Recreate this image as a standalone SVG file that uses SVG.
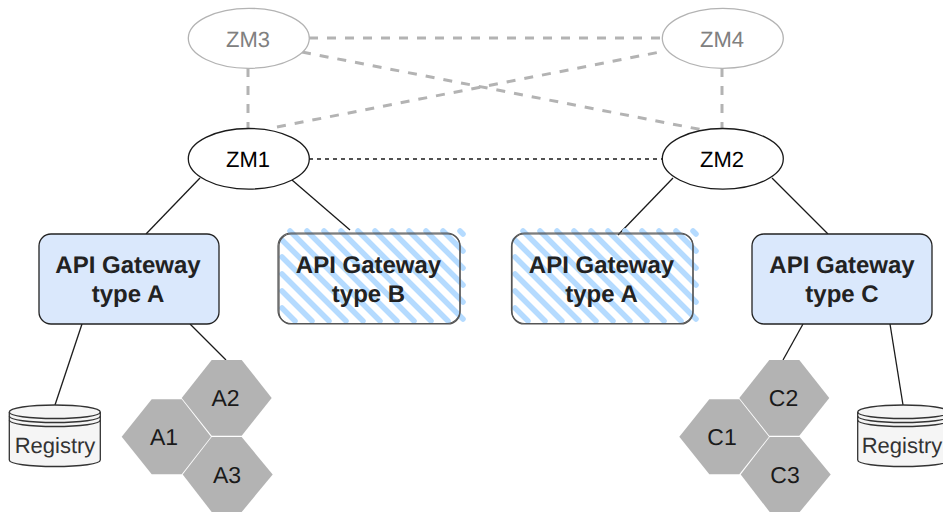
<svg xmlns="http://www.w3.org/2000/svg" width="943" height="512" viewBox="0 0 943 512">
  <style>
    text { font-family: "Liberation Sans", Arial, sans-serif; text-anchor: middle; text-rendering: geometricPrecision; }
    .zm { font-size: 22px; fill: #000; }
    .zmg { font-size: 22px; fill: #808080; }
    .el { fill: #fff; stroke: #1a1a1a; stroke-width: 1.3; }
    .elg { fill: #fff; stroke: #b3b3b3; stroke-width: 1.3; }
    .gw { font-size: 24px; font-weight: bold; fill: #222; }
    .box { fill: #dae8fc; stroke: #222; stroke-width: 1.3; }
    .sk { fill: none; stroke: #555; stroke-width: 1.2; }
    .hatch { fill: none; stroke: #b5dbff; stroke-width: 5.500; stroke-linecap: round; }
    .hex { fill: #b3b3b3; }
    .hext { font-size: 23px; fill: #1a1a1a; }
    .db { fill: #f5f5f5; stroke: #333; stroke-width: 1.3; }
    .dbl { fill: none; stroke: #333; stroke-width: 1.3; }
    .dbt { font-size: 22px; fill: #333; }
    .line { fill: none; stroke: #1a1a1a; stroke-width: 1.3; }
    .dash { fill: none; stroke: #1a1a1a; stroke-width: 1.3; stroke-dasharray: 4 4; }
    .gdash { fill: none; stroke: #b3b3b3; stroke-width: 3; stroke-dasharray: 9 9; }
  </style>
  <defs>
    <path id="hatchLines" class="hatch" d="M0 77L13 90M0 60L30 90M0 43L47 90M0 26L64 90M0 9L81 90M8 0L98 90M25 0L115 90M42 0L132 90M59 0L149 90M76 0L166 90M93 0L181 88M110 0L181 71M127 0L181 54M144 0L181 37M161 0L181 20M178 0L181 3"/>
    <g id="cyl">
      <path class="db" d="M0 7V55C0 59 20 61.500 45.500 61.500S91 59 91 55V7C91 3 71 0 45.500 0S0 3 0 7Z"/>
      <path class="dbl" d="M0 7C0 11 20 13.500 45.500 13.500S91 11 91 7M0 11C0 15 20 17.500 45.500 17.500S91 15 91 11M0 15C0 19 20 21.500 45.500 21.500S91 19 91 15"/>
    </g>
  </defs>

  <g id="connectors">
    <path class="gdash" d="M248 68V128"/>
    <path class="gdash" d="M722 68V128"/>
    <path class="gdash" d="M309 38H662"/>
    <path class="gdash" d="M302 52L703 130"/>
    <path class="gdash" d="M277 127L660 52"/>
    <path class="dash" d="M309 159H662"/>
    <path class="line" d="M200 178L146 234"/>
    <path class="line" d="M292 180L350 230"/>
    <path class="line" d="M673 178L618 235"/>
    <path class="line" d="M772 178L828 234"/>
    <path class="line" d="M82 324L55 405"/>
    <path class="line" d="M190 324L226 360"/>
    <path class="line" d="M803 324L783 360"/>
    <path class="line" d="M890 324L903 405"/>
  </g>

  <g id="zm3"><ellipse class="elg" cx="248.800" cy="38.300" rx="60.500" ry="30"/><text class="zmg" x="248" y="46.500">ZM3</text></g>
  <g id="zm4"><ellipse class="elg" cx="722.800" cy="38.300" rx="60.500" ry="30"/><text class="zmg" x="722" y="46.500">ZM4</text></g>
  <g id="zm1"><ellipse class="el" cx="248.800" cy="158.800" rx="60.500" ry="30.300"/><text class="zm" x="248" y="167">ZM1</text></g>
  <g id="zm2"><ellipse class="el" cx="722.800" cy="158.800" rx="60.500" ry="30.300"/><text class="zm" x="722" y="167">ZM2</text></g>

  <g id="gw-a1">
    <rect class="box" x="39" y="234" width="180" height="90" rx="12"/>
    <text class="gw" x="128" y="273">API Gateway</text>
    <text class="gw" x="128" y="302">type A</text>
  </g>
  <g id="gw-b">
    <use href="#hatchLines" x="282" y="231"/>
    <rect class="sk" x="279" y="234" width="181" height="90" rx="12"/>
    <rect class="sk" x="278" y="233" width="182" height="90.500" rx="13"/>
    <text class="gw" x="368.500" y="273">API Gateway</text>
    <text class="gw" x="368.500" y="302">type B</text>
  </g>
  <g id="gw-a2">
    <use href="#hatchLines" x="515" y="231"/>
    <rect class="sk" x="512" y="234" width="181" height="90" rx="12"/>
    <rect class="sk" x="511.500" y="233" width="181.500" height="90.500" rx="13"/>
    <text class="gw" x="601.500" y="273">API Gateway</text>
    <text class="gw" x="601.500" y="302">type A</text>
  </g>
  <g id="gw-c">
    <rect class="box" x="752" y="234" width="180" height="90" rx="12"/>
    <text class="gw" x="842" y="273">API Gateway</text>
    <text class="gw" x="842" y="302">type C</text>
  </g>

  <g id="registry-a">
    <use href="#cyl" x="9.300" y="405"/>
    <text class="dbt" x="55" y="453">Registry</text>
  </g>
  <g id="registry-c">
    <use href="#cyl" x="857.700" y="405"/>
    <text class="dbt" x="902" y="453">Registry</text>
  </g>

  <g id="a1"><polygon class="hex" points="121.700,436.700 151.700,399.300 181.700,399.300 211,436.700 181.700,474.300 151.700,474.300"/><text class="hext" x="164" y="445">A1</text></g>
  <g id="a2"><polygon class="hex" points="181.700,398 211.700,360 241.700,360 271.700,398 241.700,435.700 211.700,435.700"/><text class="hext" x="225.500" y="406">A2</text></g>
  <g id="a3"><polygon class="hex" points="182.700,474.500 211.700,437 241.700,437 272.700,474.500 241.700,512 211.700,512"/><text class="hext" x="227" y="483">A3</text></g>
  <g id="c1"><polygon class="hex" points="679.300,436.700 709.300,399.300 739.300,399.300 769,436.700 739.300,474.300 709.300,474.300"/><text class="hext" x="722" y="445">C1</text></g>
  <g id="c2"><polygon class="hex" points="739.300,398 769.300,360 799.300,360 829.300,398 799.300,435.700 769.300,435.700"/><text class="hext" x="783.500" y="406">C2</text></g>
  <g id="c3"><polygon class="hex" points="740.700,474.500 769.700,437 799.700,437 830.700,474.500 799.700,512 769.700,512"/><text class="hext" x="785" y="483">C3</text></g>
</svg>
